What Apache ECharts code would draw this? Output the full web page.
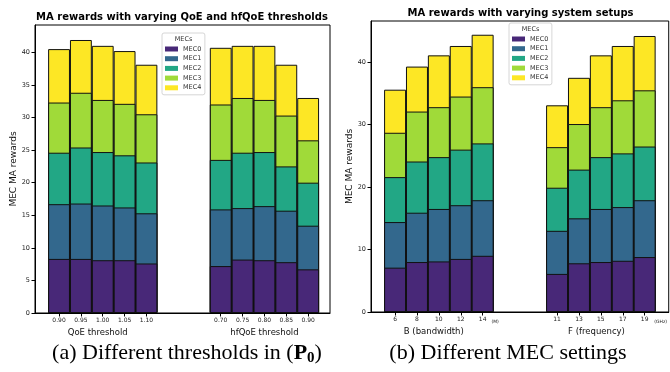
<!DOCTYPE html>
<html>
<head>
<meta charset="utf-8">
<script src="https://cdn.jsdelivr.net/npm/echarts@6/dist/echarts.min.js"></script>
<style>
  html, body { margin: 0; padding: 0; background: #fff; }
  #chart { width: 670px; height: 372px; }
</style>
</head>
<body>
<div id="chart"></div>
<script>
// ---- data ----
var mecNames = ['MEC0', 'MEC1', 'MEC2', 'MEC3', 'MEC4'];

// left panel: QoE thresholds (5 bars) then hfQoE thresholds (5 bars)
var qoeLabels = ['0.90', '0.95', '1.00', '1.05', '1.10'];
var hfqoeLabels = ['0.70', '0.75', '0.80', '0.85', '0.90'];
var thrMEC0 = [8.3, 8.3, 8.1, 8.1, 7.6, 7.2, 8.2, 8.1, 7.8, 6.7];
var thrMEC1 = [8.4, 8.5, 8.4, 8.1, 7.7, 8.7, 7.9, 8.3, 7.9, 6.7];
var thrMEC2 = [7.9, 8.6, 8.2, 8.0, 7.8, 7.6, 8.5, 8.3, 6.8, 6.6];
var thrMEC3 = [7.7, 8.4, 8.0, 7.9, 7.4, 8.5, 8.4, 8.0, 7.8, 6.5];
var thrMEC4 = [8.2, 8.1, 8.3, 8.1, 7.6, 8.7, 8.0, 8.3, 7.8, 6.5];

// right panel: bandwidth (5 bars) then frequency (5 bars)
var bwLabels = ['6', '8', '10', '12', '14'];
var freqLabels = ['11', '13', '15', '17', '19'];
var setMEC0 = [7.1, 8.0, 8.1, 8.5, 9.0, 6.1, 7.8, 8.0, 8.2, 8.8];
var setMEC1 = [7.3, 7.9, 8.4, 8.6, 8.9, 6.9, 7.2, 8.5, 8.6, 9.1];
var setMEC2 = [7.2, 8.2, 8.3, 8.9, 9.1, 6.9, 7.8, 8.3, 8.6, 8.6];
var setMEC3 = [7.1, 8.0, 8.0, 8.5, 9.0, 6.5, 7.3, 8.0, 8.5, 9.0];
var setMEC4 = [6.9, 7.2, 8.3, 8.1, 8.4, 6.7, 7.4, 8.3, 8.7, 8.7];

var leftTicks = qoeLabels.concat(hfqoeLabels);
var rightTicks = bwLabels.concat(freqLabels);
var leftGroups = ['QoE threshold', 'hfQoE threshold'];
var rightGroups = ['B (bandwidth)', 'F (frequency)'];
var rightUnits = ['(M)', '(GHz)'];
var leftYTicks = [0, 5, 10, 15, 20, 25, 30, 35, 40];
var rightYTicks = [0, 10, 20, 30, 40];

// ---- layout ----
var colors = ['#482878', '#33688d', '#22a785', '#a0da39', '#fde725'];
var GROUP_SHIFT = 7.4;  // second group starts here on the x scale
var XMIN = -1.1, XMAX_L = 12.4, XMAX_R = 12.5;
var gridL = { left: 35, top: 25, width: 295, height: 288 };
var gridR = { left: 371, top: 21, width: 299, height: 291 };

function barPos(i) {
  return i < 5 ? i : i - 5 + GROUP_SHIFT;
}
var positions = leftTicks.map(function (d, i) { return barPos(i); });

// running totals so each segment is drawn from 0 up to its top
function cumulative(list) {
  var run = list[0].map(function () { return 0; });
  return list.map(function (arr) {
    run = run.map(function (r, i) { return r + arr[i]; });
    return run.slice();
  });
}
var thrCum = cumulative([thrMEC0, thrMEC1, thrMEC2, thrMEC3, thrMEC4]);
var setCum = cumulative([setMEC0, setMEC1, setMEC2, setMEC3, setMEC4]);

function labelFor(values, labels) {
  return function (v) {
    for (var i = 0; i < values.length; i++) {
      if (Math.abs(values[i] - v) < 0.01) return labels[i];
    }
    return '';
  };
}

var font = 'DejaVu Sans';
var axisLineStyle = { show: true, onZero: false, lineStyle: { color: '#000', width: 1 } };

function tickAxis(gridIndex, max, labels, extraVals, extraLabels) {
  var vals = positions.concat(extraVals);
  var labs = labels.concat(extraLabels.map(function (s) { return '{u|' + s + '}'; }));
  return {
    type: 'value', gridIndex: gridIndex, min: XMIN, max: max, position: 'bottom',
    axisLine: axisLineStyle,
    axisTick: { show: true, customValues: positions, length: 3.5, lineStyle: { color: '#000' } },
    axisLabel: {
      customValues: vals, formatter: labelFor(vals, labs),
      fontSize: 6, color: '#222', margin: 4,
      rich: { u: { fontSize: 4.5, color: '#222', padding: [3, 0, 0, 0] } }
    },
    splitLine: { show: false }
  };
}

function groupAxis(gridIndex, max, vals, names) {
  return {
    type: 'value', gridIndex: gridIndex, min: XMIN, max: max, position: 'bottom', offset: 0,
    axisLine: { show: false, onZero: false }, axisTick: { show: false },
    axisLabel: { customValues: vals, formatter: labelFor(vals, names), fontSize: 8.5, color: '#111', margin: 15 },
    splitLine: { show: false }
  };
}

function valueAxis(gridIndex, max, ticks) {
  return {
    type: 'value', gridIndex: gridIndex, min: 0, max: max, position: 'left',
    name: 'MEC MA rewards', nameLocation: 'middle', nameGap: 17,
    nameTextStyle: { fontSize: 9, color: '#111' },
    axisLine: axisLineStyle,
    axisTick: { show: true, customValues: ticks, length: 3.5, lineStyle: { color: '#000' } },
    axisLabel: { customValues: ticks, fontSize: 6.5, color: '#222', margin: 5 },
    splitLine: { show: false }
  };
}

function unitWidth(grid, max) {
  return grid.width / (max - XMIN);
}

var series = [];
[[thrCum, 0, unitWidth(gridL, XMAX_L)], [setCum, 1, unitWidth(gridR, XMAX_R)]].forEach(function (p) {
  // tallest (MEC4 total) first so lower segments sit on top of it
  for (var k = 4; k >= 0; k--) {
    series.push({
      name: mecNames[k], type: 'bar',
      xAxisIndex: p[1] * 2, yAxisIndex: p[1],
      barWidth: p[2], barGap: '-100%',
      itemStyle: { color: colors[k], borderColor: '#111', borderWidth: 1 },
      data: p[0][k].map(function (v, i) { return [positions[i], v]; })
    });
  }
});

function legendAt(left, top) {
  return {
    left: left, top: top, orient: 'vertical',
    data: mecNames, icon: 'rect', itemWidth: 13, itemHeight: 5, itemGap: 1.7,
    padding: [12, 3.5, 3, 3],
    itemStyle: { borderWidth: 0 },
    textStyle: { fontSize: 6.5, color: '#333', lineHeight: 8 },
    borderColor: '#ccc', borderWidth: 0.8, borderRadius: 2,
    backgroundColor: 'rgba(255,255,255,0.8)'
  };
}

function text(x, y, str, size, weight, extra) {
  var style = {
    text: str, x: 0, y: 0, fill: '#000',
    font: (weight || 'normal') + ' ' + size + 'px ' + (extra && extra.family ? extra.family : font),
    align: 'center', verticalAlign: 'middle',
    textAlign: 'center', textVerticalAlign: 'middle'
  };
  if (extra && extra.rich) style.rich = extra.rich;
  if (extra && extra.fill) style.fill = extra.fill;
  return { type: 'text', x: x, y: y, z: 100, style: style };
}

var capRich = {
  p: { fontWeight: 'bold', fontSize: 22, fontFamily: 'Liberation Serif' },
  s: { fontWeight: 'bold', fontSize: 15, fontFamily: 'Liberation Serif', padding: [11, 0, 0, 0] }
};

var chart = echarts.init(document.getElementById('chart'), null, { renderer: 'canvas' });
chart.setOption({
  animation: false,
  backgroundColor: '#fff',
  textStyle: { fontFamily: font },
  grid: [
    Object.assign({ show: true, borderColor: '#000', borderWidth: 1, containLabel: false }, gridL),
    Object.assign({ show: true, borderColor: '#000', borderWidth: 1, containLabel: false }, gridR)
  ],
  xAxis: [
    tickAxis(0, XMAX_L, leftTicks, [], []),
    groupAxis(0, XMAX_L, [1.77, 2 + GROUP_SHIFT], leftGroups),
    tickAxis(1, XMAX_R, rightTicks, [4.57, 4 + GROUP_SHIFT + 0.73], rightUnits),
    groupAxis(1, XMAX_R, [1.77, 1.8 + GROUP_SHIFT], rightGroups)
  ],
  yAxis: [
    valueAxis(0, 44.2, leftYTicks),
    valueAxis(1, 46.6, rightYTicks)
  ],
  legend: [legendAt(162, 33), legendAt(509, 23)],
  series: series,
  graphic: [
    text(182, 17.7, 'MA rewards with varying QoE and hfQoE thresholds', 10, 'bold'),
    text(520.5, 13.3, 'MA rewards with varying system setups', 10, 'bold'),
    text(183.5, 39.5, 'MECs', 6.5, 'normal', { fill: '#333' }),
    text(530.5, 29.5, 'MECs', 6.5, 'normal', { fill: '#333' }),
    text(187, 353, '(a) Different thresholds in ({p|P}{s|0})', 22, 'normal', { family: 'Liberation Serif', rich: capRich }),
    text(508, 353, '(b) Different MEC settings', 22, 'normal', { family: 'Liberation Serif' })
  ]
});
</script>
</body>
</html>
